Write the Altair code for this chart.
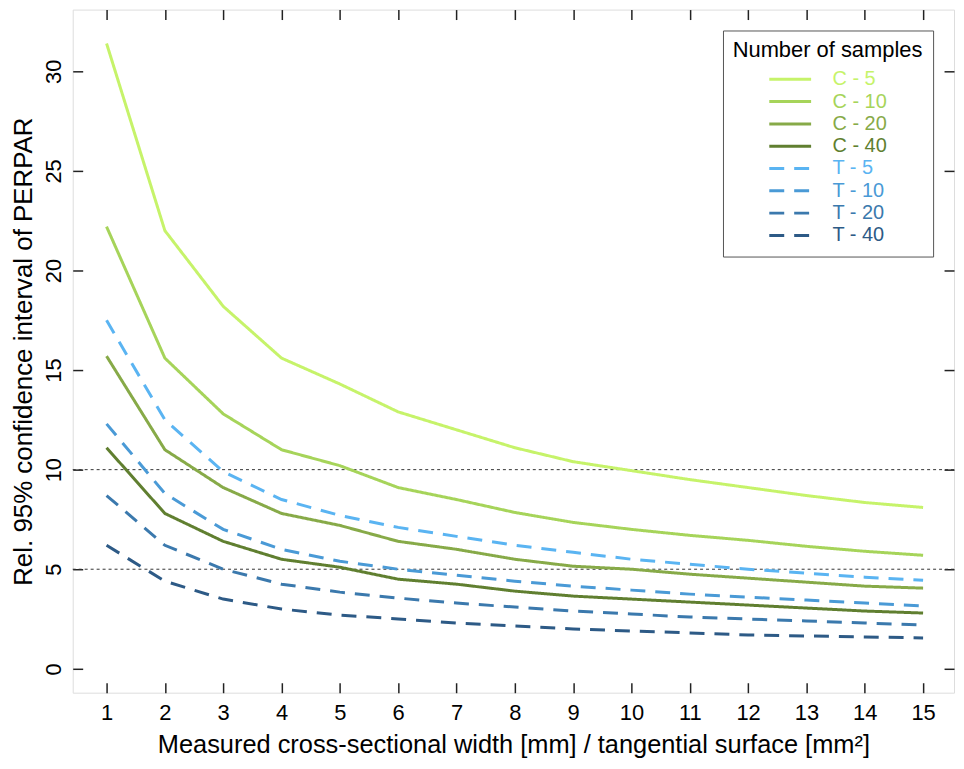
import altair as alt
import pandas as pd

x_vals = list(range(1, 16))

series_names = ["C - 5", "C - 10", "C - 20", "C - 40", "T - 5", "T - 10", "T - 20", "T - 40"]
series_colors = ["#c6f36a", "#a6d45a", "#87aa48", "#607f30", "#5ab4f2", "#4a9ad6", "#3b79ad", "#2d5a86"]

c5 = [31.4, 22.0, 18.2, 15.6, 14.3, 12.9, 12.0, 11.1, 10.4, 9.95, 9.5, 9.1, 8.7, 8.35, 8.1]
c10 = [22.2, 15.6, 12.8, 11.0, 10.2, 9.1, 8.5, 7.85, 7.35, 7.0, 6.7, 6.45, 6.15, 5.9, 5.7]
c20 = [15.7, 11.0, 9.1, 7.8, 7.2, 6.4, 6.0, 5.5, 5.15, 5.0, 4.75, 4.55, 4.35, 4.15, 4.05]
c40 = [11.1, 7.8, 6.4, 5.5, 5.1, 4.5, 4.25, 3.9, 3.65, 3.5, 3.35, 3.2, 3.05, 2.9, 2.8]
t5 = [17.5, 12.5, 9.9, 8.5, 7.7, 7.1, 6.65, 6.2, 5.85, 5.5, 5.25, 5.0, 4.8, 4.6, 4.45]
t10 = [12.3, 8.8, 7.0, 6.0, 5.4, 5.0, 4.7, 4.4, 4.15, 3.95, 3.75, 3.6, 3.45, 3.3, 3.15]
t20 = [8.7, 6.2, 5.0, 4.25, 3.85, 3.55, 3.3, 3.1, 2.9, 2.75, 2.6, 2.5, 2.4, 2.3, 2.2]
t40 = [6.2, 4.4, 3.5, 3.0, 2.7, 2.5, 2.3, 2.15, 2.0, 1.9, 1.8, 1.7, 1.65, 1.6, 1.55]

ref_levels = [5, 10]
y_ticks = [0, 5, 10, 15, 20, 25, 30]

series_values = [c5, c10, c20, c40, t5, t10, t20, t40]
rows = []
for name, vals in zip(series_names, series_values):
    for xv, yv in zip(x_vals, vals):
        rows.append({"x": xv, "y": yv, "series": name})
df = pd.DataFrame(rows)
ref_df = pd.DataFrame({"v": ref_levels})

FONT = "Liberation Sans"
xscale = alt.Scale(domain=[0.42, 15.53], nice=False, zero=False)
yscale = alt.Scale(domain=[-1.2, 33.1], nice=False, zero=False)

dash_range = [[1, 0]] * 4 + [[15, 10]] * 4

colors_js = "[" + ",".join(f"'{c}'" for c in series_colors) + "]"
names_js = "[" + ",".join(f"'{n}'" for n in series_names) + "]"
label_color_expr = f"{colors_js}[indexof({names_js}, datum.label)]"

legend = alt.Legend(
    title="Number of samples",
    orient="top-right",
    offset=21,
    fillColor="white",
    strokeColor="#555555",
    padding=10,
    titleFontSize=22,
    titleFont=FONT,
    titleFontWeight="normal",
    titleColor="black",
    titleAnchor="middle",
    titleAlign="center",
    titlePadding=6,
    titleLimit=400,
    labelFontSize=20,
    labelFont=FONT,
    labelColor={"expr": label_color_expr},
    labelLimit=200,
    symbolType="stroke",
    symbolSize=1764,
    symbolStrokeWidth=3,
    symbolOffset=0,
    labelOffset=20,
    clipHeight=22,
    rowPadding=0.4,
)

rules = alt.Chart(ref_df).mark_rule(color="#333333", strokeWidth=1, strokeDash=[3, 3]).encode(
    y=alt.Y("v:Q", scale=yscale, axis=None)
)

lines = alt.Chart(df).mark_line(strokeWidth=3).encode(
    x=alt.X(
        "x:Q",
        scale=xscale,
        axis=alt.Axis(
            orient="bottom",
            values=x_vals,
            offset=-10,
            tickSize=10,
            tickWidth=1.5,
            tickColor="#222222",
            domain=False,
            grid=False,
            labelFontSize=22,
            labelFont=FONT,
            labelColor="black",
            labelPadding=10,
            title="Measured cross-sectional width [mm] / tangential surface [mm²]",
            titleFontSize=25.5,
            titleFont=FONT,
            titleFontWeight="normal",
            titleColor="black",
            titlePadding=9,
        ),
    ),
    y=alt.Y(
        "y:Q",
        scale=yscale,
        axis=alt.Axis(
            orient="left",
            values=y_ticks,
            offset=-10,
            tickSize=10,
            tickWidth=1.5,
            tickColor="#222222",
            domain=False,
            grid=False,
            labelAngle=270,
            labelFontSize=22,
            labelFont=FONT,
            labelColor="black",
            labelPadding=7,
            title="Rel. 95% confidence interval of PERPAR",
            titleFontSize=26,
            titleFont=FONT,
            titleFontWeight="normal",
            titleColor="black",
            titlePadding=6,
        ),
    ),
    color=alt.Color("series:N", scale=alt.Scale(domain=series_names, range=series_colors), sort=series_names, legend=legend),
    strokeDash=alt.StrokeDash("series:N", scale=alt.Scale(domain=series_names, range=dash_range), sort=series_names, legend=legend),
)

mirror = alt.Chart(df).mark_point(opacity=0).encode(
    x=alt.X(
        "x:Q",
        scale=xscale,
        axis=alt.Axis(orient="top", values=x_vals, offset=-10, tickSize=10, tickWidth=1.5,
                      tickColor="#222222", domain=False, grid=False, labels=False, title=None),
    ),
    y=alt.Y(
        "y:Q",
        scale=yscale,
        axis=alt.Axis(orient="right", values=y_ticks, offset=-10, tickSize=10,
                      tickWidth=1.5, tickColor="#222222", domain=False, grid=False, labels=False, title=None),
    ),
)

chart = (
    alt.layer(rules, lines, mirror)
    .resolve_axis(x="independent", y="independent")
    .resolve_scale(x="shared", y="shared")
    .properties(
        width=885,
        height=686,
        autosize=alt.AutoSizeParams(type="none"),
        padding={"left": 65, "top": 0, "right": 2, "bottom": 67},
    )
    .configure_view(stroke="#222222", strokeWidth=1.5)
    .configure(background="white")
)

chart.save("out.html", embed_options={"renderer": "svg", "actions": False})
